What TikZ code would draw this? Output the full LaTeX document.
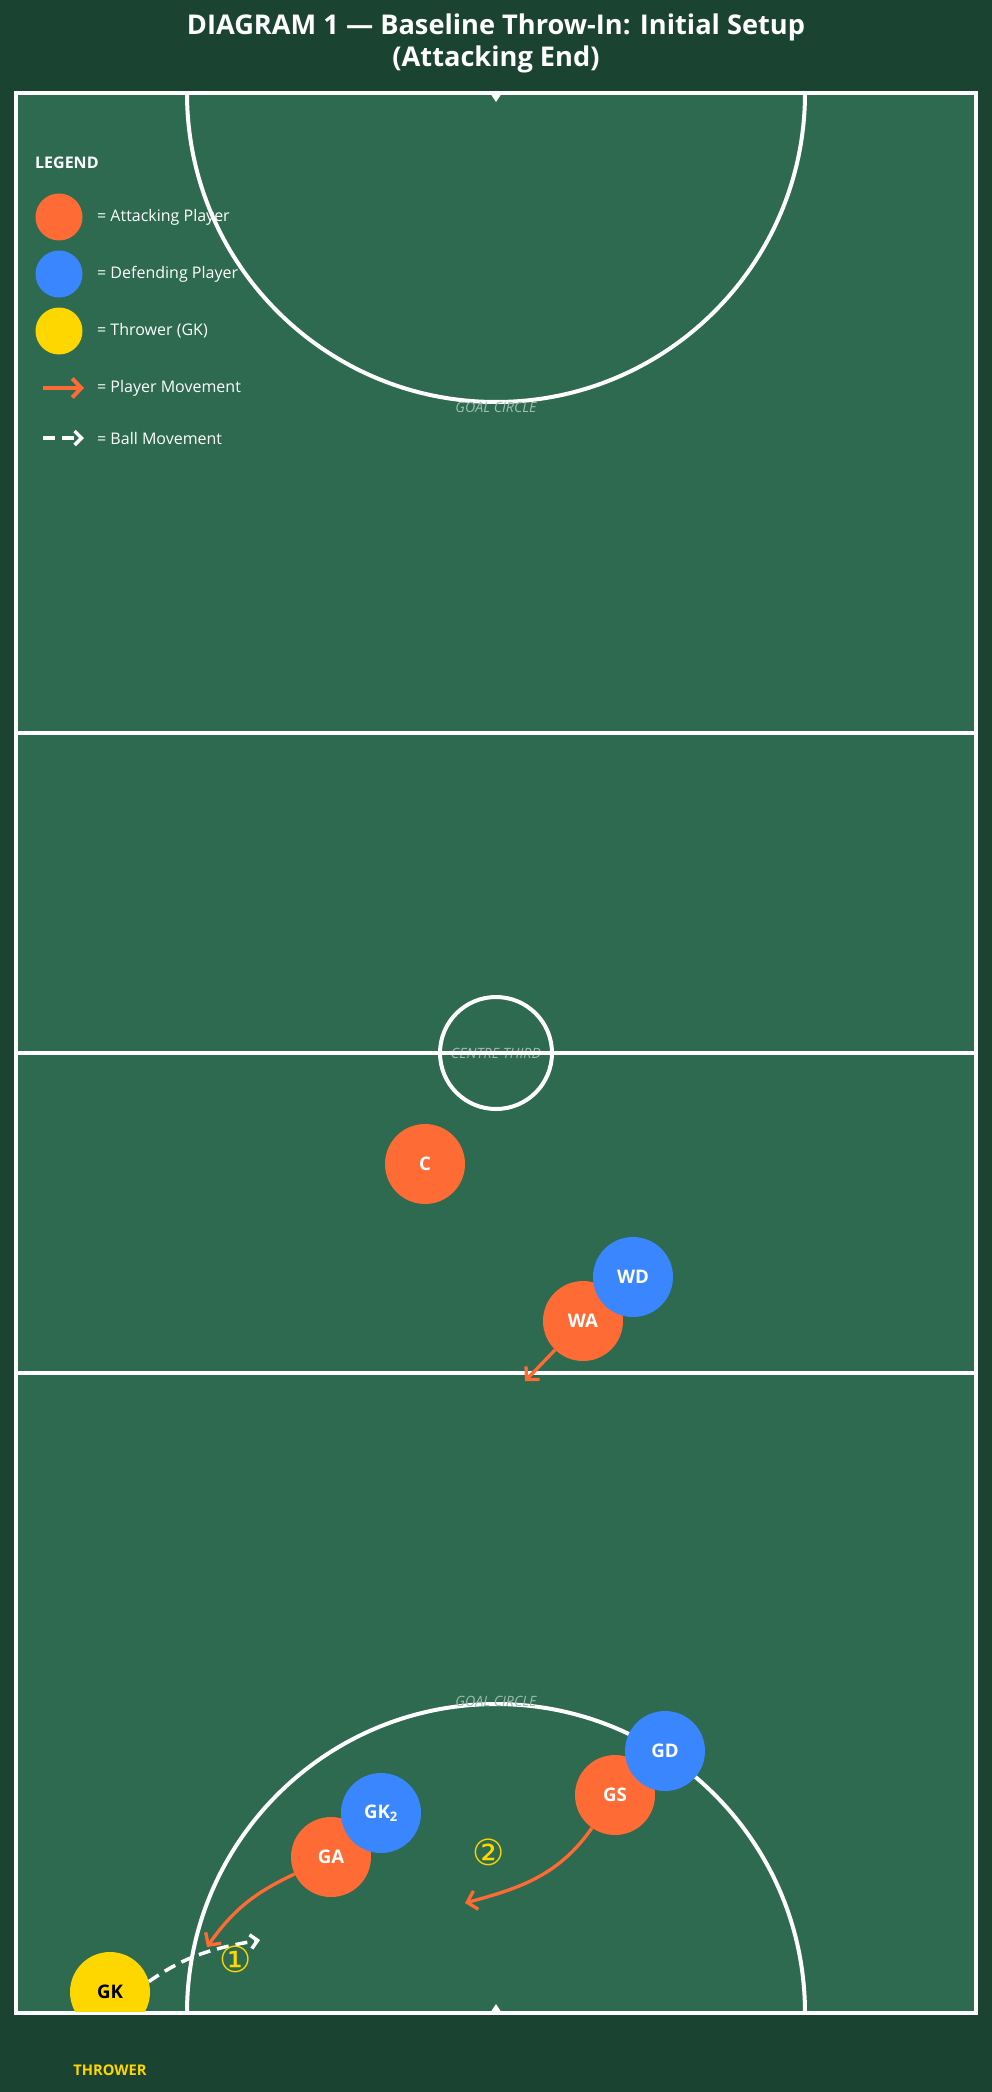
\documentclass[tikz,border=0pt]{standalone}
\usepackage{fontspec}
\setmainfont{Open Sans}
\newfontfamily\symfont{DejaVu Sans}
\usetikzlibrary{arrows.meta,positioning}

\definecolor{pitchdark}{HTML}{1B4332}
\definecolor{pitch}{HTML}{2D6A4F}
\definecolor{attack}{HTML}{FF6B35}
\definecolor{defend}{HTML}{3A86FF}
\definecolor{thrower}{HTML}{FFD700}
\colorlet{marking}{white!55!pitch}

\tikzset{
  player/.style={circle,minimum size=80pt,inner sep=0pt,text=white,
    font=\fontsize{18.7}{20}\selectfont\bfseries},
  attacker/.style={player,fill=attack},
  defender/.style={player,fill=defend},
  gkthrow/.style={player,fill=thrower,text=black},
  keydot/.style={circle,minimum size=47pt,inner sep=0pt},
  keytext/.style={anchor=west,inner sep=0pt,text=white,font=\fontsize{16}{18}\selectfont},
  courtline/.style={draw=white,line width=4pt},
  zonelabel/.style={text=marking,font=\fontsize{14.2}{15}\selectfont\itshape},
  move/.style={draw=attack,line width=3.3pt,-{Straight Barb[length=9pt,width=19pt]}},
  ball/.style={draw=white,line width=3.5pt,dash pattern=on 12pt off 7pt,
    -{Straight Barb[length=7pt,width=14pt]}},
  steplabel/.style={text=thrower,inner sep=0pt,font=\symfont\fontsize{36}{38}\selectfont}
}

\begin{document}
\begin{tikzpicture}[x=1pt,y=1pt,node distance=57pt]
    \fill[pitchdark] (0,0) rectangle (992,-2092);
    \useasboundingbox (0,0) rectangle (992,-2092);
    % title
    \node[text=white,align=center,font=\fontsize{27.2}{32}\selectfont\bfseries] (title) at (496,-43)
      {DIAGRAM 1 — Baseline Throw-In: Initial Setup\\(Attacking End)};
    % court
    \draw[courtline,line width=3.2pt,fill=pitch] (16,-93) rectangle (976,-2013);
    \node[zonelabel] (centrelabel) at (496,-1053) {CENTRE THIRD};
    \draw[courtline] (16,-733) -- (976,-733);
    \draw[courtline] (16,-1053) -- (976,-1053);
    \draw[courtline] (16,-1373) -- (976,-1373);
    \draw[courtline] (496,-1053) circle[radius=56];
    \draw[courtline] (187,-93) arc[start angle=180,end angle=360,radius=309];
    \draw[courtline] (187,-2013) arc[start angle=180,end angle=0,radius=309];
    \fill[white] (490,-93) -- (502,-93) -- (496,-102) -- cycle;
    \fill[white] (490,-2013) -- (502,-2013) -- (496,-2004) -- cycle;
    \node[zonelabel] (topcircle) at (496,-407) {GOAL CIRCLE};
    \node[zonelabel] (bottomcircle) at (496,-1701) {GOAL CIRCLE};

    % legend
    \node[anchor=west,inner sep=0pt,text=white,font=\fontsize{16}{18}\selectfont\bfseries] (legend) at (35,-163) {LEGEND};
    \node[keydot,fill=attack] (keyatt) at (59,-217) {};
    \node[keydot,fill=defend] (keydef) [below of=keyatt] {};
    \node[keydot,fill=thrower] (keythr) [below of=keydef] {};
    \node[keytext] at (97,-217) {= Attacking Player};
    \node[keytext] at (97,-274) {= Defending Player};
    \node[keytext] at (97,-331) {= Thrower (GK)};
    \coordinate (keymovea) at (43,-388);
    \coordinate (keymoveb) at (84,-388);
    \draw[move,line width=4pt] (keymovea) -- (keymoveb);
    \node[keytext] at (97,-388) {= Player Movement};
    \coordinate (keyballa) at (43,-438);
    \coordinate (keyballb) at (84,-438);
    \draw[ball] (keyballa) -- (keyballb);
    \node[keytext] at (97,-438) {= Ball Movement};

    % players
    \node[attacker] (c) at (425,-1164) {C};
    \node[attacker] (wa) at (583,-1321) {WA};
    \node[defender] (wd) at ([shift={(50,44)}]wa) {WD};
    \node[attacker] (gs) at (615,-1795) {GS};
    \node[defender] (gd) at ([shift={(50,44)}]gs) {GD};
    \node[attacker] (ga) at (331,-1857) {GA};
    \node[defender] (gkdef) at ([shift={(50,44)}]ga) {GK\textsubscript{2}};
    \begin{scope}
      \clip (16,-93) rectangle (976,-2011.4);
      \node[gkthrow] (gk) at (110,-1992) {GK};
    \end{scope}

    % movements
    \coordinate (waend) at (525,-1381);
    \coordinate (gsend) at (465,-1903);
    \coordinate (gaend) at (207,-1947);
    \coordinate (ballend) at (260,-1940);
    \draw[move] (wa) -- (waend);
    \draw[move] (gs) to[out=-125,in=15] (gsend);
    \draw[move] (ga) to[out=-155,in=55] (gaend);
    \draw[ball] (gk.15) to[out=35,in=190] (ballend);
    \node[steplabel] (stepone) at (236,-1959) {①};
    \node[steplabel] (steptwo) at (489,-1852) {②};

    \node[text=thrower,font=\fontsize{14.7}{16}\selectfont\bfseries] (throwerlabel) at (110,-2070) {THROWER};
\end{tikzpicture}
\end{document}
